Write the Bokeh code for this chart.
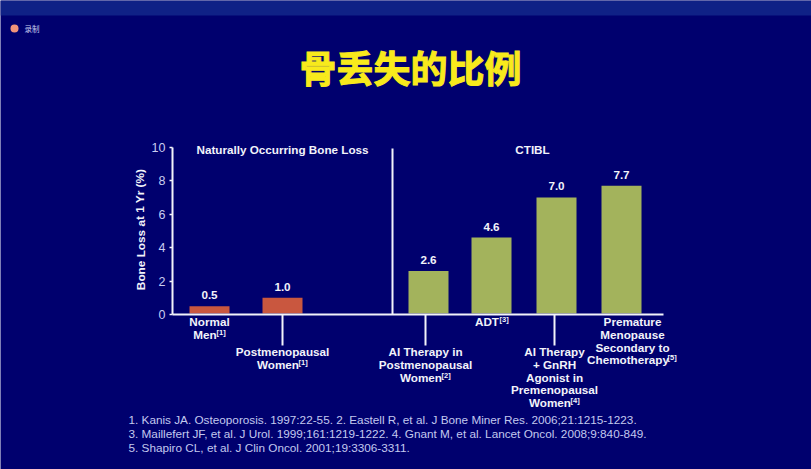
from bokeh.plotting import figure
from bokeh.models import Range1d, FixedTicker
from bokeh.core.properties import value
from bokeh.embed import file_html
from bokeh.resources import INLINE

# ---- data ----
natural_values = [0.5, 1.0]
ctibl_values = [2.6, 4.6, 7.0, 7.7]
y_ticks = [0, 2, 4, 6, 8, 10]
title = "骨丢失的比例"
group_labels = ["Naturally Occurring Bone Loss", "CTIBL"]
y_label = "Bone Loss at 1 Yr (%)"
category_lines = [
    (["Normal", "Men"], "[1]"),
    (["Postmenopausal", "Women"], "[1]"),
    (["AI Therapy in", "Postmenopausal", "Women"], "[2]"),
    (["ADT"], "[3]"),
    (["AI Therapy", "+ GnRH", "Agonist in", "Premenopausal", "Women"], "[4]"),
    (["Premature", "Menopause", "Secondary to", "Chemotherapy"], "[5]"),
]
references = [
    "1. Kanis JA. Osteoporosis. 1997:22-55. 2. Eastell R, et al. J Bone Miner Res. 2006;21:1215-1223.",
    "3. Maillefert JF, et al. J Urol. 1999;161:1219-1222. 4. Gnant M, et al. Lancet Oncol. 2008;9:840-849.",
    "5. Shapiro CL, et al. J Clin Oncol. 2001;19:3306-3311.",
]
badge_text = "录制"

# ---- layout (page pixels) ----
W, H = 811, 469
Y0_PX, PX_PER_UNIT = 314.0, 16.72
def vy(py):
    return (Y0_PX - py) / PX_PER_UNIT

NAVY, BAND = "#00006e", "#0f2186"
WHITE, TICK = "#f2f3fa", "#c9cdf0"
RED, GREEN = "#c9573f", "#a3b35c"
SANS = value("Liberation Sans")
CJK = value("Noto Sans CJK SC")

bar_x = [209, 282, 428, 491, 556, 621]
bar_w = 40
label_cx = [209, 282, 425, 491, 554, 632]
label_top = [321, 351, 351, 321, 351, 321]
line_h = [13, 13, 13, 13, 12.8, 12.8]
half_last = [11.5, 20.5, 20.5, 12.5, 20.5, 39.5]
drop_x = [282, 425, 554]

p = figure(width=W, height=H, output_backend="svg", toolbar_location=None,
           x_range=Range1d(0, W), y_range=Range1d(vy(H), vy(0)),
           min_border=0, background_fill_color=NAVY, border_fill_color=NAVY,
           outline_line_color=None)
p.grid.visible = False

# window chrome
p.quad(left=0, right=W, top=vy(0), bottom=vy(15), fill_color=BAND, line_color=None)

# axes, on the data origin
yax = p.yaxis[0]
yax.fixed_location = 172
yax.bounds = (0, 10)
yax.ticker = FixedTicker(ticks=y_ticks)
yax.axis_line_color = WHITE
yax.axis_line_width = 2
yax.major_tick_line_color = WHITE
yax.major_tick_line_width = 1.5
yax.major_tick_in = 0
yax.major_tick_out = 3
yax.minor_tick_line_color = None
yax.major_label_text_color = TICK
yax.major_label_text_font = "Liberation Sans"
yax.major_label_text_font_size = "12.5px"
yax.major_label_standoff = 4

xax = p.xaxis[0]
xax.fixed_location = 0
xax.bounds = (172, 663)
xax.ticker = FixedTicker(ticks=[])
xax.axis_line_color = WHITE
xax.axis_line_width = 2
xax.major_label_text_font_size = "0px"

# bars
values = natural_values + ctibl_values
colors = [RED] * len(natural_values) + [GREEN] * len(ctibl_values)
p.vbar(x=bar_x, top=values, bottom=0.06, width=bar_w, fill_color=colors, line_color=None)
p.text(x=bar_x, y=values, text=[f"{v:.1f}" for v in values], text_align="center",
       text_baseline="bottom", y_offset=-7, text_color=WHITE, text_font=SANS,
       text_font_style="bold", text_font_size="11.7px")

# separator and drop lines
p.segment(x0=[392], x1=[392], y0=[0], y1=[vy(148)], line_color=WHITE, line_width=2)
p.segment(x0=drop_x, x1=drop_x, y0=[0] * 3, y1=[vy(345)] * 3, line_color=WHITE, line_width=2)

def text(x, py, s, size, color=WHITE, style="bold", align="center", font=SANS, angle=0):
    return p.text(x=[x], y=[vy(py)], text=[s], text_align=align, text_baseline="middle",
                  text_color=color, text_font=font, text_font_style=style,
                  text_font_size=size, angle=angle)

# headings
t = text(410, 66, title, "37px", color="#f8ea1c", style="bold", font=CJK)
t.glyph.text_outline_color = "#f8ea1c"
text(282, 149, group_labels[0], "11.7px")
text(532, 149, group_labels[1], "11.7px")
text(140, 229, y_label, "11.8px", angle=1.5708)

# category labels; the last line is centred together with its superscript
for (lines, sup), cx, top, lh, half in zip(category_lines, label_cx, label_top, line_h, half_last):
    for i, s in enumerate(lines):
        last = i == len(lines) - 1
        text(cx - 4.5 if last else cx, top + i * lh, s, "11.7px")
    text(cx - 4.5 + half, top + (len(lines) - 1) * lh - 2, sup, "7.5px", align="left")

# references
for i, s in enumerate(references):
    text(128, 419 + i * 14, s, "11.75px", color="#c3c9ee", style="normal", align="left")

# recording badge
p.scatter(x=[14], y=[vy(28)], size=8, marker="circle", fill_color="#f0937a", line_color=None)
text(24, 27.5, badge_text, "7.5px", color="#c9cdf0", style="normal", align="left", font=CJK)

open("out.html", "w").write(file_html(p, INLINE))
